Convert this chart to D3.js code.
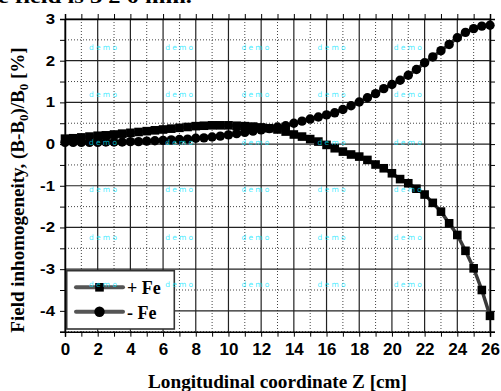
<!DOCTYPE html>
<html>
<head>
<meta charset="utf-8">
<script src="https://cdn.jsdelivr.net/npm/d3@7"></script>
<style>
  body { margin: 0; background: #fff; }
  svg { display: block; }
</style>
</head>
<body>
<svg id="chart" width="501" height="391"></svg>
<script>
// z positions of the measured points [cm]
var zValues = [0, 0.5, 1, 1.5, 2, 2.5, 3, 3.5, 4, 4.5, 5, 5.5, 6, 6.5, 7, 7.5, 8, 8.5, 9, 9.5,
               10, 10.5, 11, 11.5, 12, 12.5, 13, 13.5, 14, 14.5, 15, 15.5, 16, 16.5, 17, 17.5,
               18, 18.5, 19, 19.5, 20, 20.5, 21, 21.5, 22, 22.5, 23, 23.5, 24, 24.5, 25, 25.5, 26];

// "+ Fe" (squares)
var plusFe = [0.13, 0.14, 0.16, 0.18, 0.20, 0.21, 0.23, 0.25, 0.27, 0.29, 0.31, 0.33, 0.35, 0.37,
              0.39, 0.41, 0.43, 0.44, 0.45, 0.45, 0.45, 0.44, 0.43, 0.42, 0.40, 0.38, 0.35, 0.30,
              0.23, 0.18, 0.12, 0.06, -0.02, -0.10, -0.18, -0.25, -0.30, -0.38, -0.49, -0.58,
              -0.70, -0.84, -0.94, -1.07, -1.21, -1.41, -1.62, -1.90, -2.18, -2.56, -2.98, -3.50, -4.12];

// "- Fe" (circles)
var minusFe = [0.04, 0.04, 0.04, 0.04, 0.04, 0.05, 0.05, 0.05, 0.06, 0.06, 0.07, 0.08, 0.09, 0.10,
               0.11, 0.12, 0.14, 0.15, 0.17, 0.19, 0.22, 0.25, 0.28, 0.31, 0.34, 0.37, 0.41, 0.44,
               0.50, 0.55, 0.60, 0.65, 0.70, 0.75, 0.83, 0.92, 1.01, 1.11, 1.21, 1.33, 1.43, 1.53,
               1.65, 1.79, 1.95, 2.09, 2.24, 2.39, 2.55, 2.68, 2.77, 2.83, 2.85];

var xTickLabels = [0, 2, 4, 6, 8, 10, 12, 14, 16, 18, 20, 22, 24, 26];
var yTickLabels = [-4, -3, -2, -1, 0, 1, 2, 3];
var legendNames = ["+ Fe", "- Fe"];

var svg = d3.select("#chart");
//note: "top" is taken by window.top, so use other names
var pLeft = 65, pRight = 490, pTop = 19, pBottom = 331.7;

var x = d3.scaleLinear().domain([0, 26]).range([pLeft, pRight]);
var y = d3.scaleLinear().domain([-4.5, 3]).range([pBottom, pTop]);

var minorX = d3.range(0, 27, 1), minorY = d3.range(-4.5, 3.01, 0.5);

// cut-off caption line at the very top
svg.append("text")
   .attr("x", -2).attr("y", 2.5)
   .attr("textLength", 194).attr("lengthAdjust", "spacingAndGlyphs")
   .style("font", "bold 19px 'Liberation Serif', serif")
   .text("e field is 3 2 0 mm.");

//grid - dotted minor first, solid major on top
var grid = svg.append("g");
grid.selectAll(".mx").data(minorX.filter(function(d) { return d % 2 != 0; })).enter().append("line")
    .attr("x1", function(d) { return x(d); }).attr("x2", function(d) { return x(d); })
    .attr("y1", pTop).attr("y2", pBottom)
    .attr("stroke", "#444").attr("stroke-dasharray", "1,2");
grid.selectAll(".my").data(minorY.filter(function(d) { return d % 1 != 0; })).enter().append("line")
    .attr("y1", function(d) { return y(d); }).attr("y2", function(d) { return y(d); })
    .attr("x1", pLeft).attr("x2", pRight)
    .attr("stroke", "#444").attr("stroke-dasharray", "1,2");
grid.selectAll(".Mx").data(xTickLabels).enter().append("line")
    .attr("x1", function(d) { return x(d); }).attr("x2", function(d) { return x(d); })
    .attr("y1", pTop).attr("y2", pBottom)
    .attr("stroke", "#222").attr("stroke-width", 1.2);
grid.selectAll(".My").data(yTickLabels).enter().append("line")
    .attr("y1", function(d) { return y(d); }).attr("y2", function(d) { return y(d); })
    .attr("x1", pLeft).attr("x2", pRight)
    .attr("stroke", "#222").attr("stroke-width", 1.2);

// curves
var line = d3.line()
             .x(function(d) { return x(d[0]); })
             .y(function(d) { return y(d[1]); });
var plusPts = zValues.map(function(z, i) { return [z, plusFe[i]]; });
var minusPts = zValues.map(function(z, i) { return [z, minusFe[i]]; });

svg.append("path").datum(plusPts).attr("d", line)
   .attr("fill", "none").attr("stroke", "#3a3a3a").attr("stroke-width", 3.5);
svg.append("path").datum(minusPts).attr("d", line)
   .attr("fill", "none").attr("stroke", "#3a3a3a").attr("stroke-width", 3.5);

var sq = 8.6, rad = 4.7;
svg.append("g").selectAll("rect").data(plusPts).enter().append("rect")
   .attr("x", function(d) { return x(d[0]) - sq / 2; })
   .attr("y", function(d) { return y(d[1]) - sq / 2; })
   .attr("width", sq).attr("height", sq).attr("fill", "#000");
svg.append("g").selectAll("circle").data(minusPts).enter().append("circle")
   .attr("cx", function(d) { return x(d[0]); })
   .attr("cy", function(d) { return y(d[1]); })
   .attr("r", rad).attr("fill", "#000");

// axes on all four sides, ticks pointing out
var xAxis = d3.axisBottom(x).tickValues(minorX).tickSize(5).tickPadding(6.6)
              .tickFormat(function(d) { return d % 2 == 0 ? d : ""; });
var gx = svg.append("g").attr("transform", "translate(0," + pBottom + ")").call(xAxis);
gx.selectAll("text").style("font", "bold 17px 'Liberation Sans', Arial, sans-serif").attr("fill", "#000");

var yAxis = d3.axisLeft(y).tickValues(minorY).tickSize(5)
              .tickFormat(function(d) { return d % 1 == 0 ? d : ""; });
var gy = svg.append("g").attr("transform", "translate(" + pLeft + ",0)").call(yAxis);
gy.selectAll("text").style("font", "bold 14px 'Liberation Sans', Arial, sans-serif").attr("fill", "#000")
  .attr("x", -10 / 1.2).attr("transform", "scale(1.2,1)");

svg.append("g").attr("transform", "translate(0," + pTop + ")")
   .call(d3.axisTop(x).tickValues(minorX).tickSize(5).tickFormat(""));
svg.append("g").attr("transform", "translate(" + pRight + ",0)")
   .call(d3.axisRight(y).tickValues(minorY).tickSize(5).tickFormat(""));
svg.selectAll(".domain").attr("stroke", "#000").attr("stroke-width", 1.5);
svg.selectAll(".tick line").attr("stroke", "#000");

// axis titles
svg.append("text")
   .attr("x", 148).attr("y", 388)
   .attr("textLength", 259).attr("lengthAdjust", "spacingAndGlyphs")
   .style("font", "bold 19px 'Liberation Serif', serif")
   .text("Longitudinal coordinate Z [cm]");

var yt = svg.append("text")
   .attr("transform", "translate(24,190) rotate(-90)")
   .attr("text-anchor", "middle")
   .style("font", "bold 19px 'Liberation Serif', serif");
yt.append("tspan").text("Field inhomogeneity, (B-B");
yt.append("tspan").attr("font-size", 13).attr("dy", 4).text("0");
yt.append("tspan").attr("dy", -4).text(")/B");
yt.append("tspan").attr("font-size", 13).attr("dy", 4).text("0");
yt.append("tspan").attr("dy", -4).text(" [%]");

// legend
var lg = svg.append("g");
lg.append("rect").attr("x", 66.7).attr("y", 270.7).attr("width", 107.6).attr("height", 58.3)
  .attr("fill", "#fff").attr("stroke", "#333").attr("stroke-width", 1.6);
legendNames.forEach(function(name, i) {
  var cy = 287.3 + i * 24.4;
  lg.append("line").attr("x1", 76).attr("x2", 123).attr("y1", cy).attr("y2", cy)
    .attr("stroke", "#555").attr("stroke-width", 4).attr("stroke-linecap", "round");
  if (i == 0) {
    lg.append("rect").attr("x", 99.5 - sq / 2).attr("y", cy - sq / 2).attr("width", sq).attr("height", sq);
  } else {
    lg.append("circle").attr("cx", 99.5).attr("cy", cy).attr("r", 5.2);
  }
  lg.append("text").attr("x", 127).attr("y", cy + 7)
    .style("font", "bold 18px 'Liberation Serif', serif")
    .text(name);
});

// demo watermark
var wm = svg.append("g").attr("fill", "#00e5ff").attr("fill-opacity", 0.75);
for (var r = 0; r < 6; r++) {
  for (var c = 0; c < 5; c++) {
    wm.append("text")
      .attr("x", 89 + c * 76.2).attr("y", 49.5 + r * 47.5)
      .attr("textLength", 28).attr("lengthAdjust", "spacing")
      .style("font", "7.5px 'DejaVu Sans', sans-serif")
      .text("demo");
  }
}
</script>
</body>
</html>
